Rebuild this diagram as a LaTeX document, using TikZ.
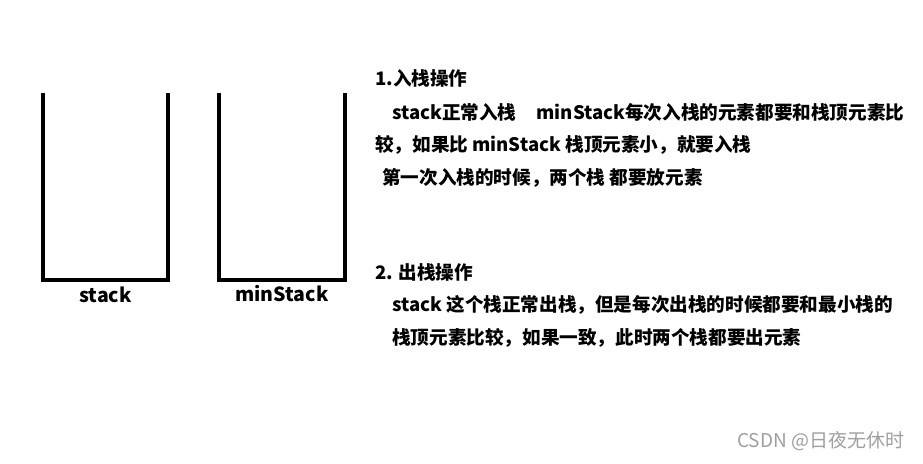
\documentclass[tikz,border=0pt]{standalone}
\usepackage{fontspec}
\setmainfont{Noto Sans CJK SC}
\usepackage{tikz}

\tikzset{
  stackbox/.style={minimum width=125pt, minimum height=187pt, inner sep=0pt},
  stackwall/.style={line width=4pt, line join=miter},
  line/.style={anchor=west, inner sep=0pt, font=\fontsize{18.6}{22}\selectfont\bfseries},
}

\begin{document}
\begin{tikzpicture}[x=1pt, y=-1pt]
  \useasboundingbox (0,0) rectangle (923,463);
  % the two stacks
  \node[stackbox] (stk) at (105.5,186.5) {};
  \node[stackbox] (mstk) at (282,186.5) {};
  \draw[stackwall] (stk.north west) -- (stk.south west) -- (stk.south east) -- (stk.north east);
  \draw[stackwall] (mstk.north west) -- (mstk.south west) -- (mstk.south east) -- (mstk.north east);
  \node[font=\fontsize{19.5}{22}\selectfont\bfseries, below=3pt] (stklbl) at (stk.south) {stack};
  \node[font=\fontsize{19.5}{22}\selectfont\bfseries, below=2pt] (mstklbl) at (mstk.south) {minStack};
  % push
  \node[line] (p1) at (375, 78) {1.入栈操作};
  \node[line] (p2) at (392,112) {stack正常入栈\hspace{20pt}minStack每次入栈的元素都要和栈顶元素比};
  \node[line] (p3) at (375,145) {较，如果比 minStack 栈顶元素小，就要入栈};
  \node[line] (p4) at (382,178) {第一次入栈的时候，两个栈 都要放元素};
  % pop
  \node[line] (q1) at (375,272) {2. 出栈操作};
  \node[line] (q2) at (392,305) {stack 这个栈正常出栈，但是每次出栈的时候都要和最小栈的};
  \node[line] (q3) at (392,338) {栈顶元素比较，如果一致，此时两个栈都要出元素};
  \node[anchor=west, inner sep=0pt, text=gray!75, font=\fontsize{19}{22}\selectfont] (mark) at (737,441) {CSDN @日夜无休时};
\end{tikzpicture}
\end{document}
